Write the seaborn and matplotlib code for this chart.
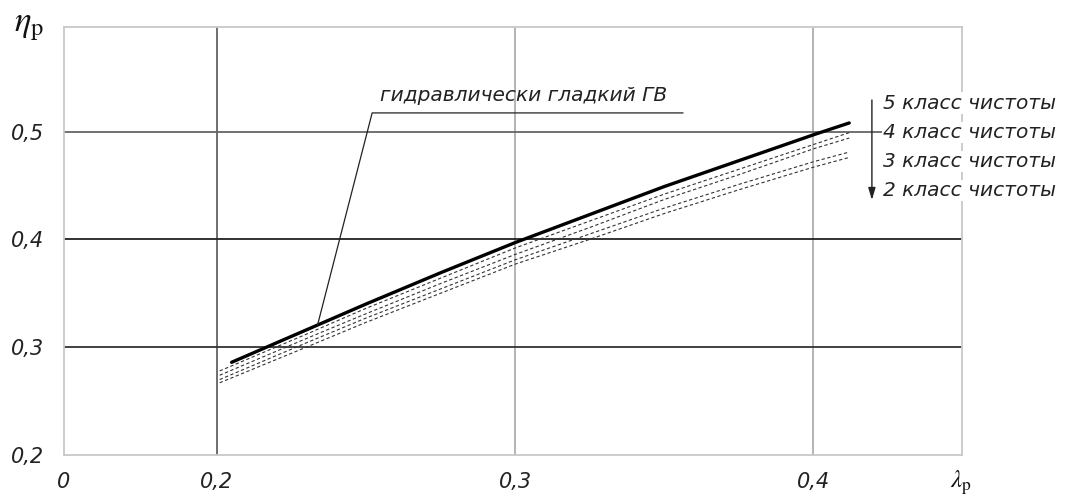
import numpy as np
import pandas as pd
import matplotlib
matplotlib.use("Agg")
import matplotlib.pyplot as plt
import seaborn as sns

# Propeller efficiency ηp versus advance ratio λp
lam_smooth = [0.205, 0.23, 0.25, 0.275, 0.30, 0.325, 0.35, 0.375, 0.40, 0.412]
eta_smooth = [0.286, 0.316, 0.340, 0.369, 0.397, 0.423, 0.449, 0.473, 0.497, 0.508]

# Surface finish classes (rough blades)
lam_rough = [0.201, 0.23, 0.25, 0.275, 0.30, 0.325, 0.35, 0.375, 0.40, 0.412]
eta_class5 = [0.278, 0.312, 0.336, 0.364, 0.392, 0.417, 0.442, 0.465, 0.488, 0.499]
eta_class4 = [0.274, 0.308, 0.331, 0.359, 0.386, 0.411, 0.437, 0.460, 0.484, 0.494]
eta_class3 = [0.270, 0.304, 0.327, 0.354, 0.381, 0.405, 0.429, 0.451, 0.472, 0.481]
eta_class2 = [0.267, 0.300, 0.323, 0.350, 0.377, 0.400, 0.424, 0.446, 0.467, 0.476]
class_labels = ["5 класс чистоты", "4 класс чистоты",
                "3 класс чистоты", "2 класс чистоты"]
smooth_label = "гидравлически гладкий ГВ"

x_ticks = [0.2, 0.3, 0.4]
x_tick_labels = ["0,2", "0,3", "0,4"]
y_ticks = [0.2, 0.3, 0.4, 0.5]
y_tick_labels = ["0,2", "0,3", "0,4", "0,5"]
x_min, x_max = 0.1488, 0.4498
y_min, y_max = 0.2, 0.597

sns.set_theme(style="white")
plt.rcParams["font.family"] = ["DejaVu Sans"]
plt.rcParams["mathtext.fontset"] = "stix"

smooth = pd.DataFrame({"lam": lam_smooth, "eta": eta_smooth})
rough = pd.concat(
    [pd.DataFrame({"lam": lam_rough, "eta": vals, "cls": lab})
     for vals, lab in zip([eta_class5, eta_class4, eta_class3, eta_class2], class_labels)],
    ignore_index=True)

fig = plt.figure(figsize=(10.82, 4.98), dpi=100)
ax = fig.add_axes([0.0591, 0.0863, 0.8300, 0.8595])

sns.lineplot(data=rough, x="lam", y="eta", units="cls", estimator=None,
             color="#333333", lw=0.8, linestyle=(0, (3, 2.2)), ax=ax, zorder=3)
sns.lineplot(data=smooth, x="lam", y="eta", color="black", lw=2.4,
             ax=ax, zorder=4)

ax.set_xlim(x_min, x_max)
ax.set_ylim(y_min, y_max)
ax.set_xlabel("")
ax.set_ylabel("")

ax.set_xticks([x_min] + x_ticks)
ax.set_xticklabels(["0"] + x_tick_labels)
ax.set_yticks(y_ticks)
ax.set_yticklabels(y_tick_labels)
for lab in ax.get_xticklabels() + ax.get_yticklabels():
    lab.set_fontsize(15)
    lab.set_fontstyle("italic")
    lab.set_color("#222222")
ax.tick_params(axis="y", length=0, pad=14)
ax.tick_params(axis="x", length=0, pad=12)

ax.grid(True, zorder=1)
xgl = ax.get_xgridlines()
xgl[0].set_visible(False)
for gl, col in zip(xgl[1:], ["#555555", "#a8a8a8", "#a8a8a8"]):
    gl.set_color(col)
    gl.set_linewidth(1.2)
ygl = ax.get_ygridlines()
ygl[0].set_visible(False)
for gl, col in zip(ygl[1:], ["#333333", "#222222", "#666666"]):
    gl.set_color(col)
    gl.set_linewidth(1.3)
ax.set_axisbelow(True)

for sp in ax.spines.values():
    sp.set_color("#c8c8c8")
    sp.set_linewidth(1.3)

# Axis symbols
fig.text(29 / 1082, 1 - 26 / 498, r"$\eta_\mathrm{p}$", fontsize=25,
         ha="center", va="center", color="#111111")
fig.text(961 / 1082, 1 - 483 / 498, r"$\lambda_\mathrm{p}$", fontsize=18,
         ha="center", va="center", color="#111111")

# Callout for the smooth curve
x_tip = 0.2338
y_tip = float(np.interp(x_tip, lam_smooth, eta_smooth))
x_knee, y_knee, x_end = 0.2521, 0.5173, 0.3563
ax.plot([x_tip, x_knee, x_end], [y_tip, y_knee, y_knee], color="#222222",
        lw=0.9, zorder=5, clip_on=False)
ax.text(0.2548, y_knee + 0.007, smooth_label, fontsize=14.5, style="italic",
        color="#222222", ha="left", va="bottom", zorder=6)

# Surface-finish class labels with the downward arrow
label_y = [0.5265, 0.4987, 0.4718, 0.4458]
for yy, lab in zip(label_y, class_labels):
    ax.text(0.4234, yy, lab, fontsize=14.5, style="italic", color="#222222",
            ha="left", va="center", zorder=6, clip_on=False,
            bbox=dict(boxstyle="square,pad=0.05", fc="white", ec="none"))
ax.annotate("", xy=(0.4196, 0.4366), xytext=(0.4196, 0.5293),
            arrowprops=dict(arrowstyle="-|>,head_width=0.18,head_length=0.6",
                            color="#222222", lw=1.0, shrinkA=0, shrinkB=0),
            annotation_clip=False, zorder=6)

fig.savefig("out.png", dpi=100)
